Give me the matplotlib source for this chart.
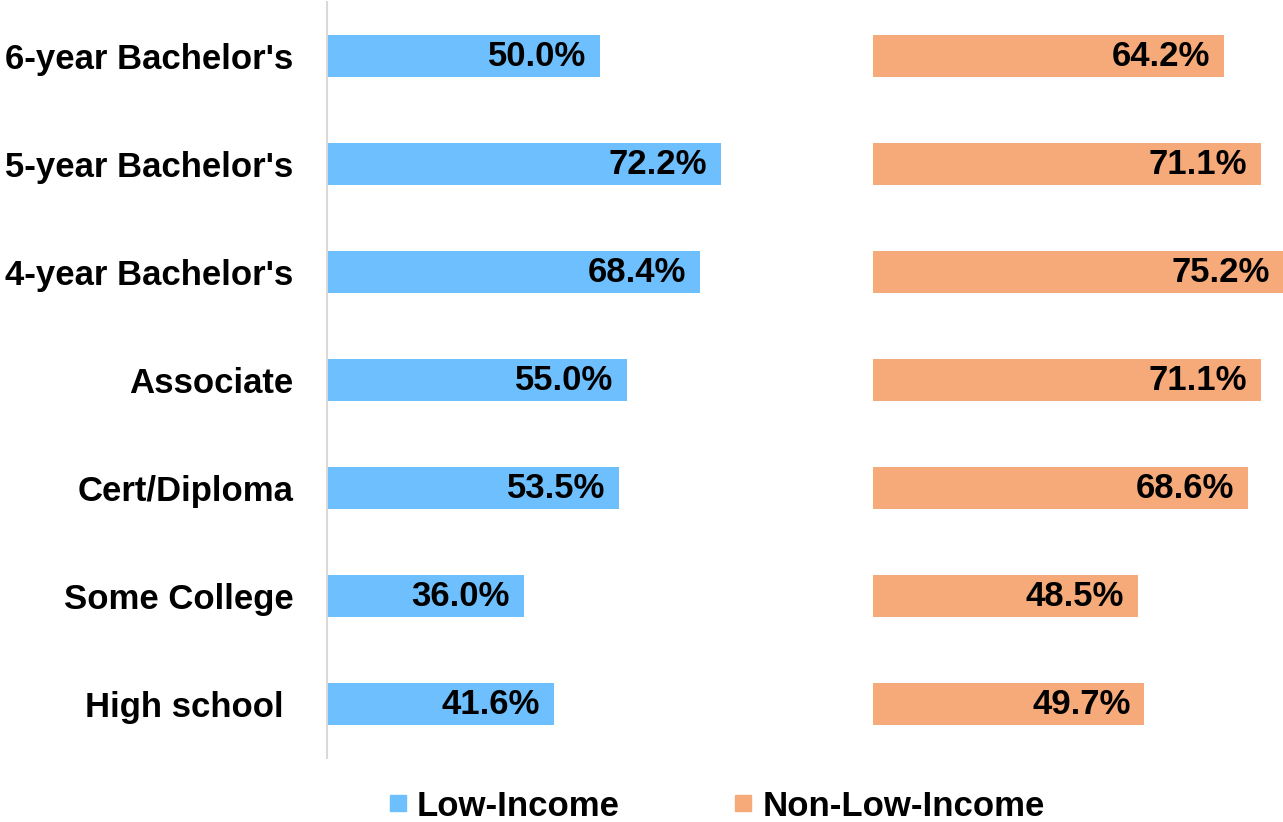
import matplotlib.pyplot as plt
from matplotlib.lines import Line2D

plt.rcParams['font.family'] = ['Liberation Sans', 'DejaVu Sans']
plt.rcParams['font.weight'] = 'bold'

categories = ["6-year Bachelor's", "5-year Bachelor's", "4-year Bachelor's", "Associate",
              "Cert/Diploma", "Some College", "High school "]
low_income = [50.0, 72.2, 68.4, 55.0, 53.5, 36.0, 41.6]
non_low_income = [64.2, 71.1, 75.2, 71.1, 68.6, 48.5, 49.7]
series_names = ["Low-Income", "Non-Low-Income"]

blue = '#6DBFFD'
orange = '#F6AA7A'
fs = 25

W, H = 1283, 822
fig = plt.figure(figsize=(W / 100, H / 100), dpi=100)

bottom = (H - 758) / H
height = 756 / H
ax1 = fig.add_axes([327 / W, bottom, 546 / W, height])
ax2 = fig.add_axes([873 / W, bottom, 410 / W, height])

ypos = list(range(len(categories)))

for ax, vals, color, xmax in [(ax1, low_income, blue, 100.0), (ax2, non_low_income, orange, 410 / 546 * 100)]:
    bars = ax.barh(ypos, vals, height=0.39, color=color)
    for b, v in zip(bars, vals):
        ax.annotate(f"{v:.1f}%", (b.get_width(), b.get_y() + b.get_height() / 2),
                    xytext=(-10, 0), textcoords='offset points', ha='right', va='center',
                    fontsize=fs, fontweight='bold', color='black', annotation_clip=False)
    ax.set_xlim(0, xmax)
    ax.set_ylim(len(categories) - 0.5, -0.5)
    ax.set_xticks([])
    for s in ['top', 'right', 'bottom', 'left']:
        ax.spines[s].set_visible(False)

ax1.spines['left'].set_visible(True)
ax1.spines['left'].set_color('#D9D9D9')
ax1.spines['left'].set_linewidth(1.5)
ax1.set_yticks(ypos)
ax1.set_yticklabels(categories, fontsize=fs, fontweight='bold')
ax1.tick_params(axis='y', length=0, pad=24)
ax2.set_yticks([])

handles = [Line2D([0], [0], marker='s', color='w', markerfacecolor=c, markeredgecolor=c, markersize=12)
           for c in (blue, orange)]
fig.legend(handles, series_names, loc='center', bbox_to_anchor=(717 / W, 16 / H), ncol=2,
           frameon=False, prop={'size': fs, 'weight': 'bold'}, handlelength=0.5,
           handletextpad=0.3, columnspacing=3.3, borderpad=0)

fig.savefig('out.png', dpi=100)
